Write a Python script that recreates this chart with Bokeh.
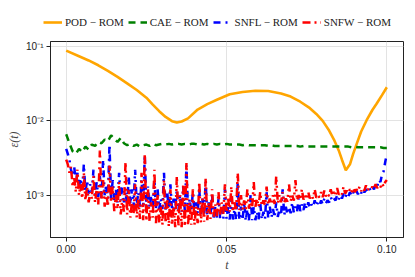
import numpy as np
from bokeh.plotting import figure
from bokeh.layouts import column
from bokeh.models import Legend, LegendItem, FixedTicker, CustomJSTickFormatter, Range1d, NumeralTickFormatter
from bokeh.embed import file_html
from bokeh.resources import INLINE

# ---- data ----
t_pod = [0.0, 0.004, 0.007, 0.010, 0.013, 0.016, 0.019, 0.022, 0.025, 0.027, 0.029, 0.031,
         0.033, 0.0345, 0.036, 0.038, 0.041, 0.044, 0.047, 0.051, 0.055, 0.059, 0.063, 0.067,
         0.070, 0.073, 0.076, 0.078, 0.080, 0.082, 0.0835, 0.085, 0.086, 0.0872, 0.0885,
         0.0895, 0.0906, 0.092, 0.0937, 0.0955, 0.0968, 0.0985, 0.1]
pod = [0.088, 0.074, 0.065, 0.056, 0.047, 0.039, 0.032, 0.026, 0.0205, 0.0165, 0.0135, 0.0113,
       0.0099, 0.0095, 0.0098, 0.0108, 0.0142, 0.0168, 0.0192, 0.0228, 0.0244, 0.0254, 0.0252,
       0.0234, 0.0212, 0.0181, 0.0148, 0.0124, 0.0100, 0.0074, 0.0056, 0.0040, 0.0030, 0.00216,
       0.0026, 0.0036, 0.0049, 0.0072, 0.0102, 0.0140, 0.0170, 0.0222, 0.0283]

t_cae = np.linspace(0.0, 0.1, 101)
cae_1e3 = [6.6, 5.0, 3.9, 3.6, 4.2, 3.8, 4.5, 4.1, 4.8, 4.6, 5.2, 5.0, 5.6, 5.3, 6.4, 5.7,
           5.2, 5.9, 5.0, 4.7, 4.9, 4.6, 4.8, 4.5, 4.7, 4.8, 4.6, 4.9, 4.7, 4.8, 4.9,
           4.8, 4.9, 4.8, 4.9, 4.9, 4.8, 4.9, 4.8, 4.9, 4.9, 4.8, 4.9, 4.8, 4.9, 4.8,
           4.9, 4.8, 4.9, 4.8, 4.9, 4.8, 4.8, 4.8, 4.8, 4.7, 4.8, 4.7, 4.7, 4.7, 4.7,
           4.7, 4.7, 4.6, 4.7, 4.6, 4.6, 4.6, 4.6, 4.6, 4.6, 4.6, 4.6, 4.5, 4.6, 4.5,
           4.5, 4.5, 4.5, 4.5, 4.5, 4.5, 4.5, 4.5, 4.5, 4.5, 4.5, 4.5, 4.5, 4.4, 4.5,
           4.4, 4.4, 4.4, 4.4, 4.4, 4.4, 4.4, 4.4, 4.3, 4.3]

t_snf = np.linspace(0.0, 0.1, 201)
snfl_1e4 = [42, 36, 30, 22, 18, 24, 15, 20, 13, 17,
            12, 26, 11, 16, 10.5, 14, 11, 22, 10, 15,
            9.5, 18, 9, 30, 10, 14, 9, 48, 9, 16,
            8.5, 12, 8, 20, 8.5, 13, 8, 11, 7.5, 18,
            7.5, 12, 7, 22, 7.5, 11, 7, 16, 7, 35,
            7, 13, 6.8, 10, 7, 16, 6.6, 12, 6.5, 9,
            6.5, 20, 6.4, 11, 6.5, 14, 6.2, 9, 6.3, 12,
            6.2, 10, 6, 13, 6.1, 25, 6, 9, 6, 11,
            5.8, 8, 5.7, 12, 5.6, 9, 5.5, 15, 5.3, 8,
            5.2, 10, 5, 7, 5, 9, 4.9, 7, 4.8, 12,
            4.8, 7, 4.7, 9, 4.7, 6.5, 4.6, 15, 4.6, 7,
            4.6, 8, 4.5, 6.5, 4.6, 10, 4.6, 7, 4.6, 6,
            4.7, 8, 4.7, 6, 4.8, 11, 4.9, 7, 5, 6.5,
            5, 8, 5.1, 6.5, 5.3, 12, 5.4, 7, 5.5, 7,
            5.7, 8, 5.8, 7, 6, 9, 6.1, 7.5, 6.3, 8,
            6.5, 8, 6.7, 7.5, 6.9, 8.5, 7.1, 8, 7.3, 8.5,
            7.5, 9, 7.8, 8.5, 8, 9.5, 8.3, 9, 8.5, 10,
            8.8, 10, 9, 10.5, 9.3, 10.5, 9.6, 11, 9.8, 11,
            10, 11.5, 10.3, 11.5, 10.6, 12, 10.9, 12, 11.2, 12.5,
            11.5, 13, 12, 14, 13, 16, 15, 19, 21, 28,
            36]
snfw_1e4 = [30, 26, 20, 24, 13, 17, 11, 22, 10, 14,
            9, 20, 8.5, 13, 8, 11, 9, 18, 8, 12,
            7.5, 40, 9, 16, 7, 11, 7, 25, 8, 13,
            6, 10, 6.5, 15, 5.5, 9, 6, 28, 5.5, 12,
            5, 8, 5.5, 14, 5, 9, 4.8, 20, 4.6, 36,
            4.5, 12, 4.4, 8, 5, 22, 4.2, 10, 4.3, 7,
            4, 16, 4.2, 9, 3.8, 12, 4, 7, 3.7, 18,
            3.8, 10, 3.7, 14, 3.8, 27, 3.9, 8, 4, 12,
            4, 7, 4.2, 15, 4.3, 9, 4.4, 17, 4.6, 8,
            4.8, 12, 5, 7.5, 5.2, 11, 5.4, 8, 5.6, 14,
            5.8, 9, 6, 13, 6, 8, 6.2, 20, 6.3, 10,
            6.4, 8.5, 6.5, 12, 6.6, 9, 6.8, 15, 7, 9,
            7, 11, 7.2, 8.5, 7.3, 13, 7.4, 9, 7.5, 10,
            7.6, 18, 7.8, 10, 8, 11, 8, 9, 8.2, 14,
            8.3, 10, 8.4, 16, 8.5, 10, 8.6, 12, 8.7, 10,
            8.8, 11, 9, 10, 9, 12, 9.2, 10, 9.3, 11,
            9.4, 11.5, 9.6, 10.5, 9.7, 12, 9.8, 11, 10, 12.5,
            10.2, 11, 10.3, 13, 10.5, 11.5, 10.7, 12, 10.8, 12.5,
            11, 12, 11.2, 13, 11.3, 12.5, 11.5, 13.5, 11.7, 12.5,
            12, 13, 12.2, 14, 12.5, 13.5, 12.8, 14.5, 13, 15,
            16]

y_ticks = [1e-3, 1e-2, 1e-1]
x_ticks = [0.0, 0.05, 0.1]
labels = ["POD \u2212 ROM", "CAE \u2212 ROM", "SNFL \u2212 ROM", "SNFW \u2212 ROM"]
colors = ["#FFA500", "#008000", "#0000FF", "#FF0000"]
dashes = ["solid", "7 5", "7 5 2 5", "8 4 2 4 2 4"]
widths = [2.6, 2.5, 2.5, 2.5]

cae = [v * 1e-3 for v in cae_1e3]
snfl = [v * 1e-4 for v in snfl_1e4]
snfw = [v * 1e-4 for v in snfw_1e4]
series_x = [t_pod, t_cae, t_snf, t_snf]
series_y = [pod, cae, snfl, snfw]

# ---- legend strip (separate figure above the plot; its own ranges keep the series out of view) ----
LH = 34
lg = figure(frame_width=414, frame_height=LH, x_axis_type=None, y_axis_type=None,
            x_range=Range1d(5, 6), y_range=Range1d(5, 6),
            output_backend="svg", toolbar_location=None, min_border=0,
            outline_line_color=None)
lg_renderers = [lg.line(x, y, line_color=c, line_dash=d, line_width=w)
                for x, y, c, d, w in zip(series_x, series_y, colors, dashes, widths)]
legend = Legend(items=[LegendItem(label=lab, renderers=[r]) for lab, r in zip(labels, lg_renderers)],
                orientation="horizontal", location=(43, LH - 30),
                label_text_font="Liberation Serif", label_text_font_size="11px",
                label_text_color="#222222", label_height=16, glyph_height=16,
                border_line_color=None, background_fill_alpha=0,
                glyph_width=19, label_standoff=3, spacing=4, padding=2, margin=0)
lg.add_layout(legend, "center")

# ---- main plot ----
FH = 196
p = figure(frame_width=353, frame_height=FH, y_axis_type="log",
           x_range=Range1d(-0.0049, 0.1052), y_range=Range1d(10 ** -3.57, 10 ** -0.932),
           output_backend="svg", toolbar_location=None,
           min_border_left=50, min_border_right=3, min_border_top=7, min_border_bottom=20)

for x, y, c, d, w in zip(series_x, series_y, colors, dashes, widths):
    p.line(x, y, line_color=c, line_width=w, line_dash=d)

p.xaxis.ticker = FixedTicker(ticks=x_ticks, minor_ticks=[])
p.xaxis.formatter = NumeralTickFormatter(format="0.00")
p.yaxis.ticker = FixedTicker(ticks=y_ticks, minor_ticks=[])
p.yaxis.formatter = CustomJSTickFormatter(code="""
const e = Math.round(Math.log10(tick));
const m = {'-':'\\u207b','0':'\\u2070','1':'\\u00b9','2':'\\u00b2','3':'\\u00b3','4':'\\u2074','5':'\\u2075','6':'\\u2076','7':'\\u2077','8':'\\u2078','9':'\\u2079'};
return '10' + String(e).split('').map(c => m[c]).join('');
""")

for ax in (p.xaxis, p.yaxis):
    ax.major_tick_out = 4
    ax.major_tick_in = 0
    ax.minor_tick_out = 0
    ax.minor_tick_in = 0
    ax.axis_line_color = "#222222"
    ax.major_tick_line_color = "#222222"
    ax.major_label_text_font = "Liberation Sans"
    ax.major_label_text_font_size = "10px"
    ax.major_label_text_color = "#222222"
    ax.major_label_standoff = 3
    ax.axis_label_text_font = "Liberation Serif"
    ax.axis_label_text_font_style = "italic"
    ax.axis_label_text_font_size = "12px"
    ax.axis_label_text_color = "#444444"
    ax.axis_label_standoff = 2

p.xaxis.axis_label = "t"
p.yaxis.axis_label = "\u03b5(t)"

p.xgrid.grid_line_color = "#e3e3e3"
p.ygrid.grid_line_color = "#e3e3e3"
p.outline_line_color = "#222222"
p.outline_line_alpha = 1.0
p.outline_line_width = 1

layout = column(lg, p, spacing=0)
open("out.html", "w").write(file_html(layout, INLINE))
